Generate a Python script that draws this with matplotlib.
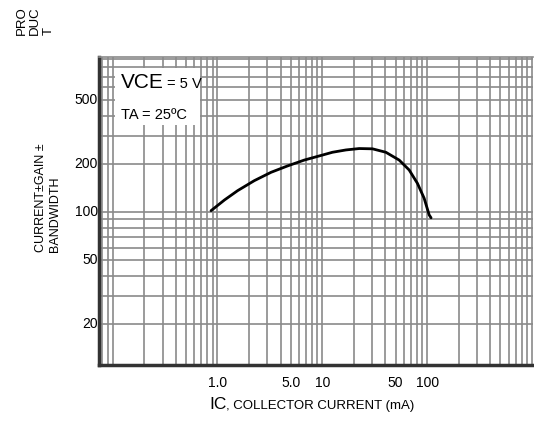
import matplotlib
matplotlib.use("Agg")
import matplotlib.pyplot as plt
from matplotlib.ticker import FixedLocator, LogLocator, NullFormatter

plt.rcParams['font.family'] = ['Liberation Sans', 'DejaVu Sans']

# data
ic_ma = [0.87, 1.17, 1.56, 2.25, 3.25, 4.67, 6.74, 10.1, 12.5, 16.8, 22.5,
         30.1, 40.4, 54.1, 67.4, 80.8, 93.6, 104.5, 109]
ft_mhz = [102, 119, 136, 157, 177, 194, 211, 227, 236, 244, 249,
          248, 236, 211, 183, 151, 122, 96, 92]

x_ticks = [1, 5, 10, 50, 100]
x_tick_labels = ["1.0", "5.0", "10", "50", "100"]
y_ticks = [20, 50, 100, 200, 500]
y_tick_labels = ["20", "50", "100", "200", "500"]

fig = plt.figure(figsize=(5.34, 4.24), dpi=100)
ax = fig.add_axes([0.185, 0.139, 0.813, 0.727])
ax.set_xscale('log')
ax.set_yscale('log')
ax.set_xlim(0.074, 1020)
ax.set_ylim(11.1, 930)

grid_kw = dict(color='#8a8a8a', linewidth=1.2)
ax.xaxis.set_major_locator(FixedLocator([0.1, 1, 10, 100, 1000]))
ax.xaxis.set_minor_locator(LogLocator(base=10, subs=range(2, 10), numticks=20))
ax.yaxis.set_major_locator(FixedLocator([10, 100, 1000]))
ax.yaxis.set_minor_locator(LogLocator(base=10, subs=range(2, 10), numticks=20))
for axis in (ax.xaxis, ax.yaxis):
    axis.set_major_formatter(NullFormatter())
    axis.set_minor_formatter(NullFormatter())
ax.grid(True, which='both', **grid_kw)
ax.tick_params(which='both', length=0)

for xv, lab in zip(x_ticks, x_tick_labels):
    ax.text(xv, -0.035, lab, transform=ax.get_xaxis_transform(), ha='center', va='top', fontsize=10)
for yv, lab in zip(y_ticks, y_tick_labels):
    ax.text(-0.002, yv, lab, transform=ax.get_yaxis_transform(), ha='right', va='center', fontsize=10)

ax.plot(ic_ma, ft_mhz, color='black', linewidth=2.0, solid_capstyle='round', zorder=5)

ax.spines['right'].set_visible(False)
ax.spines['top'].set_color('#8a8a8a')
ax.spines['top'].set_linewidth(1.2)
ax.spines['left'].set_color('#333333')
ax.spines['left'].set_linewidth(2.5)
ax.spines['bottom'].set_color('#333333')
ax.spines['bottom'].set_linewidth(2.5)

# annotation box
box = plt.Rectangle((0.037, 0.779), 0.195, 0.185, transform=ax.transAxes,
                    facecolor='white', edgecolor='none', zorder=3)
ax.add_patch(box)
ax.text(0.051, 0.916, "VCE", transform=ax.transAxes, fontsize=15, va='center', ha='left', zorder=6)
ax.text(0.157, 0.912, "= 5 V", transform=ax.transAxes, fontsize=10.5, va='center', ha='left', zorder=6)
ax.text(0.051, 0.812, "TA = 25ºC", transform=ax.transAxes, fontsize=10.5, va='center', ha='left', zorder=6)

# axis labels
fig.text(0.392, 0.045, "IC", fontsize=12.5, ha='left', va='center')
fig.text(0.424, 0.043, ", COLLECTOR CURRENT (mA)", fontsize=9.5, ha='left', va='center')

fig.text(0.066, 0.405, "CURRENT±GAIN ±\nBANDWIDTH", rotation=90, fontsize=9,
         ha='left', va='bottom', multialignment='left', linespacing=1.2)
fig.text(0.030, 0.917, "PRO\nDUC\nT", rotation=90, fontsize=9.5,
         ha='left', va='bottom', multialignment='left', linespacing=1.15)

fig.savefig("out.png", dpi=100)
